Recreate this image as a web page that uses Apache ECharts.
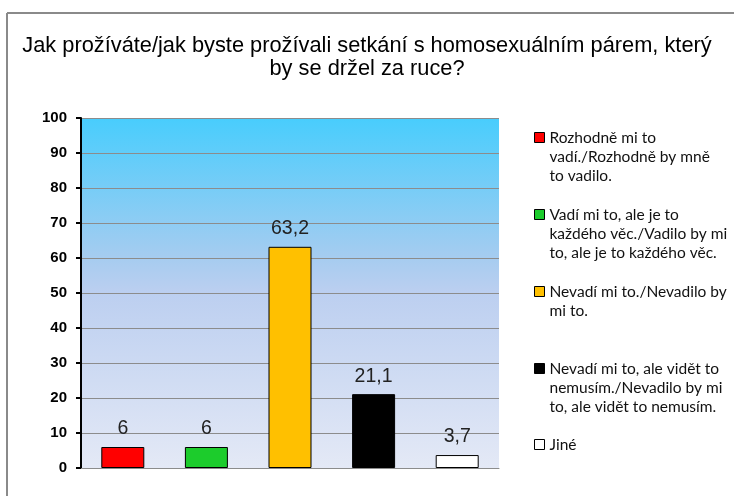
<!DOCTYPE html>
<html>
<head>
<meta charset="utf-8">
<script src="https://cdn.jsdelivr.net/npm/echarts@6/dist/echarts.min.js"></script>
<style>
  html, body { margin: 0; padding: 0; background: #fff; }
  #main { width: 734px; height: 496px; }
</style>
</head>
<body>
<div id="main"></div>
<script>
// data
var categories = [
    'Rozhodně mi to vadí./Rozhodně by mně to vadilo.',
    'Vadí mi to, ale je to každého věc./Vadilo by mi to, ale je to každého věc.',
    'Nevadí mi to./Nevadilo by mi to.',
    'Nevadí mi to, ale vidět to nemusím./Nevadilo by mi to, ale vidět to nemusím.',
    'Jiné'
];
// legend text as wrapped in the original
var legendLines = [
    ['Rozhodně mi to', 'vadí./Rozhodně by mně', 'to vadilo.'],
    ['Vadí mi to, ale je to', 'každého věc./Vadilo by mi', 'to, ale je to každého věc.'],
    ['Nevadí mi to./Nevadilo by', 'mi to.'],
    ['Nevadí mi to, ale vidět to', 'nemusím./Nevadilo by mi', 'to, ale vidět to nemusím.'],
    ['Jiné']
];
var values = [6, 6, 63.2, 21.1, 3.7];
var colors = ['#ff0000', '#1ccc2c', '#ffc000', '#000000', '#ffffff'];
var yTicks = [0, 10, 20, 30, 40, 50, 60, 70, 80, 90, 100];

var legendFirstLineY = [137.5, 214.5, 291.5, 368.5, 444.5];
var lh = 19;

var chartDom = document.getElementById('main');
var myChart = echarts.init(chartDom);

var series = categories.map(function (name, i) {
    return {
        name: name,
        type: 'bar',
        stack: 'all',
        barWidth: 43,
        data: values.map(function (v, j) { return j === i ? v : '-'; }),
        itemStyle: { color: colors[i], borderColor: '#000', borderWidth: 1 },
        label: {
            show: true,
            position: 'top',
            distance: 8,
            fontFamily: 'Liberation Sans',
            fontSize: 19.5,
            color: '#222',
            formatter: function (p) { return String(p.value).replace('.', ','); }
        }
    };
});

// one legend per item so the marker sits on the first text line
var legends = categories.map(function (name, i) {
    var n = legendLines[i].length;
    var pad = [];
    for (var k = 1; k < n; k++) pad.push('');
    return {
        data: [name],
        left: 534,
        top: legendFirstLineY[i] - (n - 0.5) * lh,
        padding: 0,
        itemWidth: 10,
        itemHeight: 10,
        itemGap: 0,
        icon: 'rect',
        selectedMode: false,
        itemStyle: { borderColor: '#000', borderWidth: 1 },
        formatter: function () { return pad.concat(legendLines[i]).join('\n'); },
        textStyle: {
            fontFamily: 'Lato',
            fontSize: 15.5,
            lineHeight: lh,
            color: '#111'
        }
    };
});

var option = {
    animation: false,
    title: {
        text: 'Jak prožíváte/jak byste prožívali setkání s homosexuálním párem, který\nby se držel za ruce?',
        left: 'center',
        top: 29,
        textStyle: {
            fontFamily: 'Liberation Sans',
            fontSize: 21.8,
            fontWeight: 'normal',
            lineHeight: 23,
            color: '#000'
        }
    },
    legend: legends,
    grid: {
        left: 81,
        right: 235,
        top: 118,
        bottom: 28,
        show: true,
        borderWidth: 0,
        backgroundColor: new echarts.graphic.LinearGradient(0, 0, 0, 1, [
            { offset: 0, color: '#48cdfd' },
            { offset: 0.4, color: '#a6ccf0' },
            { offset: 0.5, color: '#bccff0' },
            { offset: 1, color: '#e4e9f6' }
        ])
    },
    xAxis: {
        type: 'category',
        data: categories,
        axisLine: { lineStyle: { color: '#8c8c8c', width: 1 } },
        axisTick: { show: false },
        axisLabel: { show: false }
    },
    yAxis: {
        type: 'value',
        min: yTicks[0],
        max: yTicks[yTicks.length - 1],
        interval: 10,
        axisLine: { show: true, lineStyle: { color: '#000', width: 2 } },
        axisTick: { show: true, length: 5, lineStyle: { color: '#000', width: 2 } },
        axisLabel: {
            margin: 14,
            fontFamily: 'Liberation Sans',
            fontSize: 15,
            fontWeight: 'bold',
            color: '#000'
        },
        splitLine: { lineStyle: { color: '#8c8c8c', width: 1 } }
    },
    graphic: [
        // outer frame (top and left edges visible)
        { type: 'line', shape: { x1: 7, y1: 13, x2: 734, y2: 13 }, style: { stroke: '#8a8a8a', lineWidth: 2 } },
        { type: 'line', shape: { x1: 7, y1: 13, x2: 7, y2: 496 }, style: { stroke: '#8a8a8a', lineWidth: 2 } }
    ],
    series: series
};

option && myChart.setOption(option);
</script>
</body>
</html>
